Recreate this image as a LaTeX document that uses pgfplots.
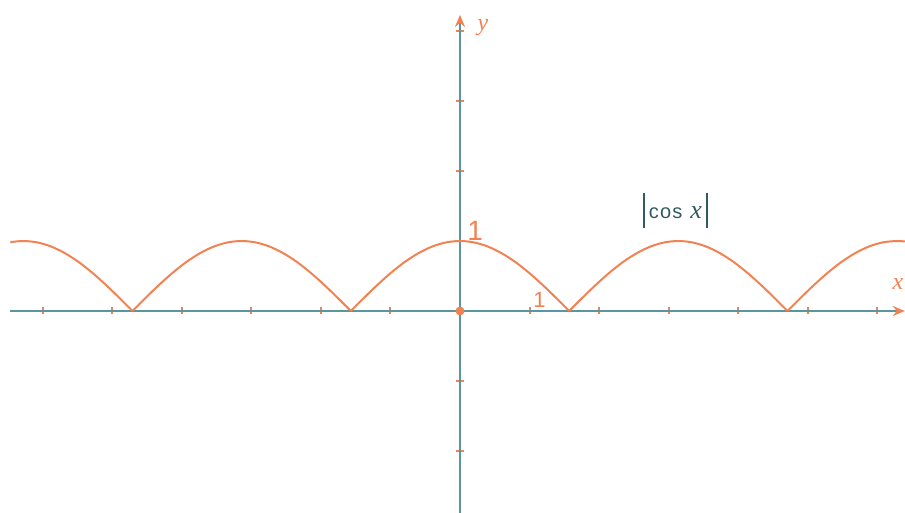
\documentclass[border=0pt]{standalone}
\usepackage{pgfplots}
\pgfplotsset{compat=1.18}
\usepackage{fontspec}
\setmainfont{Liberation Serif}
\newfontfamily\labelsans{Liberation Sans}
\usetikzlibrary{arrows.meta}
\definecolor{axiscol}{RGB}{88,150,160}
\definecolor{curvecol}{RGB}{242,130,82}
\definecolor{textcol}{RGB}{50,90,100}
\newcommand{\absbar}{\rule[-4.5pt]{0.8pt}{17.5pt}}
\begin{document}
\begin{tikzpicture}
\begin{axis}[
  anchor=origin, at={(0pt,0pt)},
  x=34.75pt, y=35pt,
  xmin=-6.48, xmax=6.40,
  ymin=-2.89, ymax=4.23,
  axis lines=middle,
  axis line style={draw=axiscol, line width=1pt, -{Stealth[length=6pt,width=5pt,color=curvecol]}},
  xtick={-6,-5,-4,-3,-2,-1,1,2,3,4,5,6},
  ytick={-2,-1,1,2,3,4},
  xticklabels={}, yticklabels={},
  tick align=center,
  major tick length=3.5pt,
  tick style={draw=curvecol, line width=1pt},
  clip=false,
]
% |cos x|, one arch between consecutive zeros
\addplot[curvecol, line width=1pt, smooth] coordinates {
  (-6.47,0.984) (-6.2832,1.000) (-6.0832,0.980) (-5.8832,0.921) (-5.6832,0.825)
  (-5.4832,0.697) (-5.2832,0.540) (-5.0832,0.362) (-4.8832,0.170) (-4.7124,0)};
\addplot[curvecol, line width=1pt, smooth] coordinates {
  (-4.7124,0) (-4.5416,0.170) (-4.3416,0.362) (-4.1416,0.540) (-3.9416,0.697)
  (-3.7416,0.825) (-3.5416,0.921) (-3.3416,0.980) (-3.1416,1.000) (-2.9416,0.980)
  (-2.7416,0.921) (-2.5416,0.825) (-2.3416,0.697) (-2.1416,0.540) (-1.9416,0.362)
  (-1.7416,0.170) (-1.5708,0)};
\addplot[curvecol, line width=1pt, smooth] coordinates {
  (-1.5708,0) (-1.4,0.170) (-1.2,0.362) (-1.0,0.540) (-0.8,0.697) (-0.6,0.825)
  (-0.4,0.921) (-0.2,0.980) (0,1.000) (0.2,0.980) (0.4,0.921) (0.6,0.825)
  (0.8,0.697) (1.0,0.540) (1.2,0.362) (1.4,0.170) (1.5708,0)};
\addplot[curvecol, line width=1pt, smooth] coordinates {
  (1.5708,0) (1.7416,0.170) (1.9416,0.362) (2.1416,0.540) (2.3416,0.697)
  (2.5416,0.825) (2.7416,0.921) (2.9416,0.980) (3.1416,1.000) (3.3416,0.980)
  (3.5416,0.921) (3.7416,0.825) (3.9416,0.697) (4.1416,0.540) (4.3416,0.362)
  (4.5416,0.170) (4.7124,0)};
\addplot[curvecol, line width=1pt, smooth] coordinates {
  (4.7124,0) (4.8832,0.170) (5.0832,0.362) (5.2832,0.540) (5.4832,0.697)
  (5.6832,0.825) (5.8832,0.921) (6.0832,0.980) (6.2832,1.000) (6.40,0.993)};
% origin dot
\addplot[only marks, mark=*, mark size=2pt, color=curvecol] coordinates {(0,0)};
% labels
\node[text=curvecol, anchor=south west, inner sep=0pt, font=\labelsans\fontsize{14}{14}\selectfont] at (axis cs:0.1,1.0) {1};
\node[text=curvecol, anchor=south west, inner sep=0pt, font=\labelsans\fontsize{11}{11}\selectfont] at (axis cs:1.05,0.05) {1};
\node[text=textcol, inner sep=0pt] at (axis cs:3.10,1.436)
  {\absbar\hspace{2pt}{\labelsans\fontsize{10}{10}\selectfont c\hspace{0.6pt}o\hspace{0.6pt}s}\hspace{4pt}{\itshape\fontsize{13}{13}\selectfont x}\hspace{2pt}\absbar};
\node[text=curvecol, font=\itshape\fontsize{12}{12}\selectfont] at (axis cs:0.33,4.05) {y};
\node[text=curvecol, font=\itshape\fontsize{12}{12}\selectfont] at (axis cs:6.30,0.38) {x};
\end{axis}
\pgfresetboundingbox
\path[use as bounding box] (-230pt,-101pt) rectangle (222.5pt,155.5pt);
\end{tikzpicture}
\end{document}
